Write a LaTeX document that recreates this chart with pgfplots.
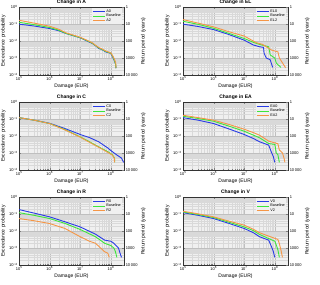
\documentclass[border=0pt]{standalone}
\usepackage{pgfplots}
\pgfplotsset{compat=1.18}
\usepackage{fontspec}
\setmainfont{Liberation Sans}
\definecolor{cB}{RGB}{40,60,230}
\definecolor{cG}{RGB}{60,230,60}
\definecolor{cO}{RGB}{245,150,70}
\definecolor{bg}{RGB}{240,240,240}
\pgfplotsset{
 mypanel/.style={
  scale only axis, width=210pt, height=136pt, anchor=south west,
  xmin=1e5, xmax=2.7e8, ymin=1e-4, ymax=1,
  axis background/.style={fill=bg},
  grid=both, major grid style={draw=gray!50, line width=0.4pt},
  minor grid style={draw=gray!30, line width=0.3pt},
  xtick={1e5,1e6,1e7,1e8},
  xticklabels={10\textsuperscript{5},10\textsuperscript{6},10\textsuperscript{7},10\textsuperscript{8}},
  ytick={1e-4,1e-3,1e-2,1e-1,1},
  yticklabels={10\textsuperscript{−4},10\textsuperscript{−3},10\textsuperscript{−2},10\textsuperscript{−1},10\textsuperscript{0}},
  ytick pos=left,
  tick label style={font=\fontsize{8}{9}\selectfont},
  label style={font=\fontsize{10}{11}\selectfont},
  title style={font=\fontsize{10}{11}\selectfont\bfseries, yshift=-5pt},
  xlabel={Damage (EUR)}, ylabel={Exceedance probability},
  legend style={at={(0.985,0.985)}, anchor=north east, draw=none, fill=bg,
    font=\fontsize{7.5}{8.5}\selectfont, row sep=-1.5pt, inner sep=1pt},
  legend image code/.code={\draw[#1] (0pt,0pt) -- (24pt,0pt);},
  legend cell align=left,
  axis line style={draw=black!80, line width=0.5pt},
 },
 myrp/.style={
  scale only axis, width=210pt, height=136pt, anchor=south west,
  xmin=1e5, xmax=2.7e8, ymin=1, ymax=1e4, y dir=reverse,
  axis x line=none, axis y line*=right, yminorticks=false,
  ytick={1,10,100,1000,10000}, yticklabels={1,10,100,1000,10\,000},
  tick label style={font=\fontsize{8}{9}\selectfont},
  label style={font=\fontsize{10}{11}\selectfont},
  ylabel={Return period (years)},
  axis line style={draw=black!80, line width=0.5pt},
 }
}
\tikzset{cb/.style={draw=cB,line width=1.8pt},cg/.style={draw=cG,line width=1.8pt},co/.style={draw=cO,line width=1.8pt}}
\begin{document}
\begin{tikzpicture}
\useasboundingbox (0,0) rectangle (640pt,568pt);
% ---------- A ----------
\begin{loglogaxis}[mypanel, at={(38pt,418pt)}, title={Change in A}]
\addplot[cb] coordinates {(1e5,0.098) (3.16e5,0.076) (1e6,0.054) (2e6,0.040) (3.47e6,0.0275) (1e7,0.0155) (1.58e7,0.0105) (2.51e7,0.0071) (3.16e7,0.0053) (4.07e7,0.0036) (5.01e7,0.0032) (6.76e7,0.0023) (9.77e7,0.0019) (1.12e8,0.0013) (1.26e8,0.00079) (1.41e8,0.0005) (1.48e8,0.00025)};
\addplot[cg] coordinates {(1e5,0.126) (3.16e5,0.091) (1e6,0.062) (2e6,0.043) (3.47e6,0.028) (1e7,0.0158) (1.58e7,0.011) (2.51e7,0.0074) (3.16e7,0.0054) (4.17e7,0.0038) (5.01e7,0.0033) (6.92e7,0.0024) (1e8,0.0019) (1.15e8,0.0013) (1.29e8,0.00079) (1.41e8,0.0005) (1.48e8,0.00025)};
\addplot[co] coordinates {(1e5,0.166) (3.16e5,0.112) (1e6,0.074) (2e6,0.049) (3.47e6,0.030) (1e7,0.0166) (1.58e7,0.0115) (2.51e7,0.0078) (3.16e7,0.0056) (4.17e7,0.0040) (5.01e7,0.0035) (7.08e7,0.0025) (1e8,0.0020) (1.17e8,0.0013) (1.32e8,0.00083) (1.45e8,0.0005) (1.48e8,0.00025)};
\legend{A0,Baseline,A2}
\end{loglogaxis}
\begin{loglogaxis}[myrp, at={(38pt,418pt)}]\addplot[draw=none] coordinates {(1e6,10)};\end{loglogaxis}
% ---------- EL ----------
\begin{loglogaxis}[mypanel, at={(366pt,418pt)}, title={Change in EL}]
\addplot[cb] coordinates {(1e5,0.098) (3.16e5,0.071) (1e6,0.047) (3.16e6,0.024) (1e7,0.0112) (2e7,0.0058) (3.16e7,0.0046) (4.27e7,0.0042) (4.47e7,0.0019) (5.25e7,0.001) (7.08e7,0.00079) (8.5e7,0.00028)};
\addplot[cg] coordinates {(1e5,0.145) (3.16e5,0.095) (1e6,0.056) (3.16e6,0.028) (1e7,0.0141) (2e7,0.0083) (3.16e7,0.0063) (6.31e7,0.0046) (7.08e7,0.0015) (1e8,0.001) (1.12e8,0.0005) (1.58e8,0.00028)};
\addplot[co] coordinates {(1e5,0.182) (3.16e5,0.112) (1e6,0.068) (3.16e6,0.035) (1e7,0.0195) (2.51e7,0.0079) (3.98e7,0.0063) (7.94e7,0.0029) (1.26e8,0.0023) (1.41e8,0.001) (2.24e8,0.00027)};
\legend{EL0,Baseline,EL2}
\end{loglogaxis}
\begin{loglogaxis}[myrp, at={(366pt,418pt)}]\addplot[draw=none] coordinates {(1e6,10)};\end{loglogaxis}
% ---------- C ----------
\begin{loglogaxis}[mypanel, at={(38pt,228pt)}, title={Change in C}]
\addplot[cb] coordinates {(1e5,0.12) (3.16e5,0.085) (1e6,0.056) (3.16e6,0.0275) (1e7,0.0123) (2e7,0.0081) (3.98e7,0.0046) (7.94e7,0.002) (1e8,0.0014) (1.58e8,0.00076) (2.24e8,0.0005) (2.63e8,0.00028)};
\addplot[cg] coordinates {(1e5,0.12) (3.16e5,0.085) (1e6,0.054) (3.16e6,0.024) (1e7,0.0089) (2e7,0.0046) (3.98e7,0.0023) (7.94e7,0.0012) (1.12e8,0.00079) (1.32e8,0.0005) (1.35e8,0.00028)};
\addplot[co] coordinates {(1e5,0.12) (3.16e5,0.085) (1e6,0.054) (3.16e6,0.023) (1e7,0.0085) (2e7,0.0043) (3.98e7,0.0022) (7.94e7,0.0011) (1.12e8,0.00075) (1.3e8,0.0005) (1.32e8,0.00028)};
\legend{C0,Baseline,C2}
\end{loglogaxis}
\begin{loglogaxis}[myrp, at={(38pt,228pt)}]\addplot[draw=none] coordinates {(1e6,10)};\end{loglogaxis}
% ---------- EA ----------
\begin{loglogaxis}[mypanel, at={(366pt,228pt)}, title={Change in EA}]
\addplot[cb] coordinates {(1e5,0.12) (3.16e5,0.085) (1e6,0.054) (3.16e6,0.026) (1e7,0.0123) (2e7,0.0071) (3.16e7,0.0046) (6.31e7,0.0029) (7.94e7,0.001) (8.91e7,0.00063) (1e8,0.00028)};
\addplot[cg] coordinates {(1e5,0.145) (3.16e5,0.107) (1e6,0.074) (3.16e6,0.038) (1e7,0.019) (2e7,0.0112) (3.16e7,0.0079) (6.31e7,0.0036) (1e8,0.0032) (1.12e8,0.001) (1.26e8,0.00079) (1.41e8,0.00028)};
\addplot[co] coordinates {(1e5,0.166) (3.16e5,0.12) (1e6,0.085) (3.16e6,0.048) (1e7,0.025) (2e7,0.0158) (3.16e7,0.0112) (6.31e7,0.005) (1.26e8,0.0035) (1.41e8,0.0015) (1.78e8,0.001) (2e8,0.0005) (2.14e8,0.00028)};
\legend{EA0,Baseline,EA2}
\end{loglogaxis}
\begin{loglogaxis}[myrp, at={(366pt,228pt)}]\addplot[draw=none] coordinates {(1e6,10)};\end{loglogaxis}
% ---------- R ----------
\begin{loglogaxis}[mypanel, at={(38pt,38pt)}, title={Change in R}]
\addplot[cb] coordinates {(1e5,0.182) (3.16e5,0.112) (1e6,0.068) (3.16e6,0.035) (1e7,0.0174) (3.16e7,0.0065) (6.31e7,0.0029) (1e8,0.0025) (1.26e8,0.0019) (1.78e8,0.001) (2e8,0.0005) (2.24e8,0.00028)};
\addplot[cg] coordinates {(1e5,0.12) (3.16e5,0.083) (1e6,0.054) (3.16e6,0.028) (1e7,0.0123) (3.16e7,0.0046) (6.31e7,0.0019) (1e8,0.0014) (1.26e8,0.001) (1.41e8,0.00063) (1.58e8,0.00028)};
\addplot[co] coordinates {(1e5,0.054) (3.16e5,0.04) (1e6,0.0275) (3.16e6,0.0141) (1e7,0.0046) (2e7,0.0025) (3.16e7,0.0019) (6.31e7,0.0006) (7.94e7,0.0005) (8.91e7,0.00028)};
\legend{R0,Baseline,R2}
\end{loglogaxis}
\begin{loglogaxis}[myrp, at={(38pt,38pt)}]\addplot[draw=none] coordinates {(1e6,10)};\end{loglogaxis}
% ---------- V ----------
\begin{loglogaxis}[mypanel, at={(366pt,38pt)}, title={Change in V}]
\addplot[cb] coordinates {(1e5,0.12) (3.16e5,0.083) (1e6,0.054) (3.16e6,0.028) (1e7,0.0141) (2e7,0.0079) (3.16e7,0.0046) (6.31e7,0.0029) (7.94e7,0.0011) (8.91e7,0.00063) (1e8,0.00028)};
\addplot[cg] coordinates {(1e5,0.132) (3.16e5,0.093) (1e6,0.062) (3.16e6,0.033) (1e7,0.0174) (2e7,0.0105) (3.16e7,0.0063) (6.31e7,0.0036) (1e8,0.0025) (1.12e8,0.0015) (1.26e8,0.00079) (1.41e8,0.00028)};
\addplot[co] coordinates {(1e5,0.145) (3.16e5,0.102) (1e6,0.068) (3.16e6,0.038) (1e7,0.022) (2e7,0.0126) (3.16e7,0.0079) (6.31e7,0.005) (1.26e8,0.0032) (1.41e8,0.0018) (1.58e8,0.00079) (1.78e8,0.00028)};
\legend{V0,Baseline,V2}
\end{loglogaxis}
\begin{loglogaxis}[myrp, at={(366pt,38pt)}]\addplot[draw=none] coordinates {(1e6,10)};\end{loglogaxis}
\end{tikzpicture}
\end{document}
